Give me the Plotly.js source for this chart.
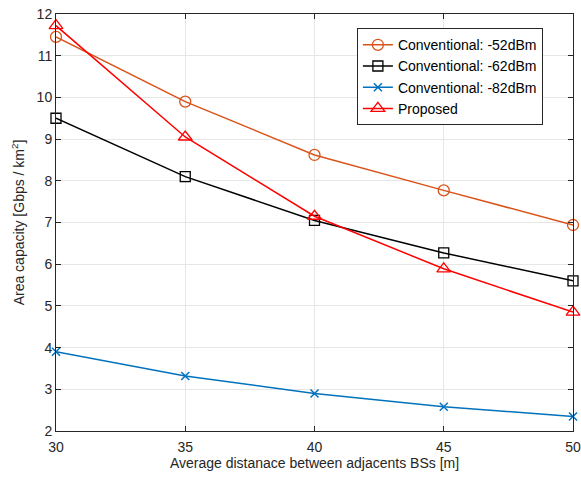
<!DOCTYPE html>
<html>
<head>
<meta charset="utf-8">
<script src="https://cdn.plot.ly/plotly-3.0.1.min.js"></script>
<style>html,body{margin:0;padding:0;background:#fff;}#chart{width:581px;height:480px;}</style>
</head>
<body>
<div id="chart"></div>
<script>
var distances = [30, 35, 40, 45, 50];
var conv52 = [11.45, 9.9, 8.62, 7.77, 6.94];
var conv62 = [9.5, 8.1, 7.05, 6.27, 5.6];
var conv82 = [3.9, 3.32, 2.9, 2.58, 2.35];
var proposed = [11.72, 9.05, 7.15, 5.89, 4.85];
var seriesNames = ['Conventional: -52dBm', 'Conventional: -62dBm', 'Conventional: -82dBm', 'Proposed'];
var xTicks = [30, 35, 40, 45, 50];
var yTicks = [2, 3, 4, 5, 6, 7, 8, 9, 10, 11, 12];

var traces = [
  {x: distances, y: conv52, name: seriesNames[0], mode: 'lines+markers', cliponaxis: false,
   line: {color: '#D95319', width: 1.5},
   marker: {symbol: 'circle-open', size: 11, color: '#D95319', line: {width: 1.3}}},
  {x: distances, y: conv62, name: seriesNames[1], mode: 'lines+markers', cliponaxis: false,
   line: {color: '#000000', width: 1.5},
   marker: {symbol: 'square-open', size: 10, color: '#000000', line: {width: 1.3}}},
  {x: distances, y: conv82, name: seriesNames[2], mode: 'lines+markers', cliponaxis: false,
   line: {color: '#0072BD', width: 1.5},
   marker: {symbol: 'x-thin-open', size: 8, color: '#0072BD', line: {width: 1.5, color: '#0072BD'}}},
  {x: distances, y: proposed, name: seriesNames[3], mode: 'lines+markers', cliponaxis: false,
   line: {color: '#FF0000', width: 1.5},
   marker: {symbol: 'triangle-up-open', size: 12, color: '#FF0000', line: {width: 1.3}}}
];

var axisCommon = {
  showline: true, linecolor: '#262626', linewidth: 1, mirror: 'ticks',
  ticks: 'inside', ticklen: 5, tickcolor: '#262626',
  showgrid: true, gridcolor: '#e6e6e6', gridwidth: 1, zeroline: false,
  ticklabeloverflow: 'allow',
  tickfont: {family: 'Arial, Liberation Sans, sans-serif', size: 14, color: '#262626'}
};

var layout = {
  width: 581, height: 480,
  margin: {l: 56, r: 8, t: 14, b: 49},
  paper_bgcolor: '#ffffff', plot_bgcolor: '#ffffff',
  showlegend: true,
  font: {family: 'Arial, Liberation Sans, sans-serif', color: '#262626'},
  xaxis: Object.assign({}, axisCommon, {
    range: [30, 50], tickvals: xTicks, ticktext: xTicks.map(String),
    ticklabelstandoff: 3,
    title: {text: 'Average distanace between adjacents BSs [m]', standoff: 4,
            font: {family: 'Arial, Liberation Sans, sans-serif', size: 14, color: '#262626'}}
  }),
  yaxis: Object.assign({}, axisCommon, {
    range: [2, 12], tickvals: yTicks, ticktext: yTicks.map(String),
    title: {text: 'Area capacity [Gbps / km<sup>2</sup>]', standoff: 8,
            font: {family: 'Arial, Liberation Sans, sans-serif', size: 14, color: '#262626'}}
  }),
  legend: {
    x: 0.582, y: 0.966, xanchor: 'left', yanchor: 'top',
    bgcolor: '#ffffff', bordercolor: '#262626', borderwidth: 1,
    font: {family: 'Arial, Liberation Sans, sans-serif', size: 14, color: '#000000'},
    tracegroupgap: 0, itemwidth: 30
  }
};

Plotly.newPlot('chart', traces, layout, {displayModeBar: false, staticPlot: true});
</script>
</body>
</html>
